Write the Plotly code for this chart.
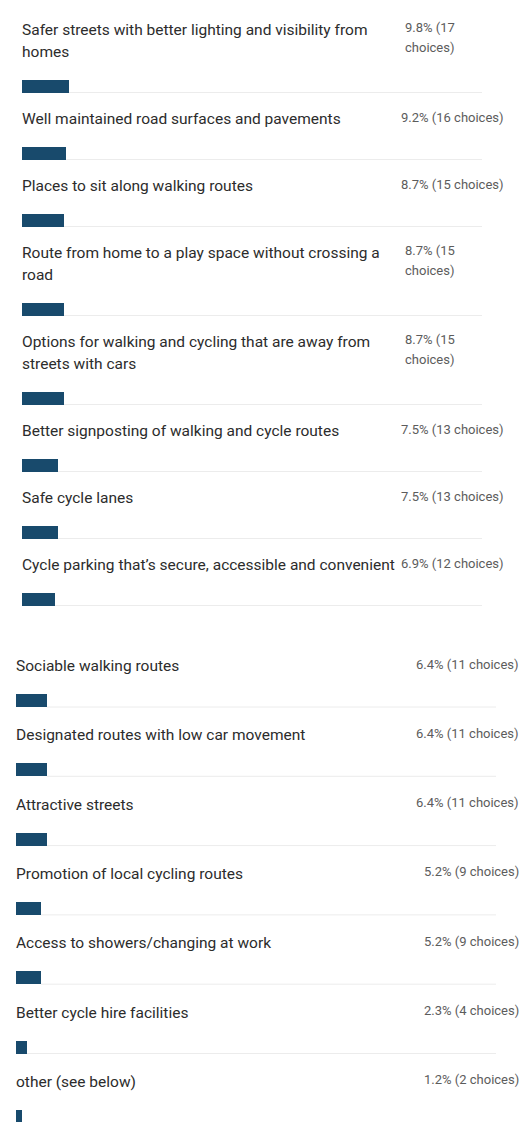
import textwrap
import plotly.graph_objects as go

# ---------------- data ----------------
labels = [
    "Safer streets with better lighting and visibility from homes",
    "Well maintained road surfaces and pavements",
    "Places to sit along walking routes",
    "Route from home to a play space without crossing a road",
    "Options for walking and cycling that are away from streets with cars",
    "Better signposting of walking and cycle routes",
    "Safe cycle lanes",
    "Cycle parking that\u2019s secure, accessible and convenient",
    "Sociable walking routes",
    "Designated routes with low car movement",
    "Attractive streets",
    "Promotion of local cycling routes",
    "Access to showers/changing at work",
    "Better cycle hire facilities",
    "other (see below)",
]
percents = [9.8, 9.2, 8.7, 8.7, 8.7, 7.5, 7.5, 6.9, 6.4, 6.4, 6.4, 5.2, 5.2, 2.3, 1.2]
choices = [17, 16, 15, 15, 15, 13, 13, 12, 11, 11, 11, 9, 9, 4, 2]
section = [1, 1, 1, 1, 1, 1, 1, 1, 2, 2, 2, 2, 2, 2, 2]

# ---------------- layout constants ----------------
W, H = 523, 1122
BAR_COLOR = "#184a6c"
LABEL_COLOR = "#2c2c2c"
PCT_COLOR = "#5c5c5c"
LINE_COLOR = "#ececec"
FONT = "Roboto"
LABEL_SIZE = 15.5
PCT_SIZE = 13

sec_left = {1: 22, 2: 16}          # px where 0% sits
px_per_pct = 4.8                   # px per percent
sec_pct_right = {1: 504, 2: 519}   # right edge of percentage text
sec_line_end = {1: 482, 2: 502}    # end of faint track line
wrap_pct_left = 405
SPLIT = 632                        # px boundary between the two sections

def paper_x(px):
    return px / W

# vertical layout (pixel units)
rows = []
y = 30.0
prev_sec = 1
for i, lab in enumerate(labels):
    sec = section[i]
    if sec != prev_sec:
        y += 34
        prev_sec = sec
    lines = textwrap.wrap(lab, 54)
    gap_lb, gap_bl = (34, 33) if sec == 1 else (34.5, 34.8)
    line_ys = [y + 22 * k for k in range(len(lines))]
    bar_y = line_ys[-1] + gap_lb
    rows.append((lines, line_ys, bar_y))
    y = bar_y + gap_bl

fig = go.Figure()

xax = {1: "x", 2: "x2"}
yax = {1: "y", 2: "y2"}
for sec in (1, 2):
    idx = [i for i in range(len(labels)) if section[i] == sec]
    fig.add_trace(go.Bar(
        x=[percents[i] for i in idx],
        y=[rows[i][2] for i in idx],
        orientation="h",
        width=13,
        marker=dict(color=BAR_COLOR, line=dict(width=0)),
        xaxis=xax[sec], yaxis=yax[sec],
        hoverinfo="skip",
        showlegend=False,
    ))

annotations = []
shapes = []
for i, (lines, line_ys, bar_y) in enumerate(rows):
    sec = section[i]
    left = sec_left[sec]
    for ln, ly in zip(lines, line_ys):
        annotations.append(dict(
            x=paper_x(left), y=ly, xref="paper", yref=yax[sec],
            text=ln, showarrow=False, xanchor="left", yanchor="middle",
            xshift=-2,
            font=dict(family=FONT, size=LABEL_SIZE, color=LABEL_COLOR),
        ))
    if len(lines) > 1:
        p_lines = [f"{percents[i]}% ({choices[i]}", "choices)"]
        for k, pl in enumerate(p_lines):
            annotations.append(dict(
                x=paper_x(wrap_pct_left), y=line_ys[0] - 3 + 20 * k,
                xref="paper", yref=yax[sec],
                text=pl, showarrow=False, xanchor="left", yanchor="middle",
                xshift=-2,
                font=dict(family=FONT, size=PCT_SIZE, color=PCT_COLOR),
            ))
    else:
        annotations.append(dict(
            x=paper_x(sec_pct_right[sec]), y=line_ys[0] - 2,
            xref="paper", yref=yax[sec],
            text=f"{percents[i]}% ({choices[i]} choices)",
            showarrow=False, xanchor="right", yanchor="middle",
            xshift=2,
            font=dict(family=FONT, size=PCT_SIZE, color=PCT_COLOR),
        ))
    # faint track line after the bar
    line_end_pct = (sec_line_end[sec] - left) / px_per_pct
    shapes.append(dict(
        type="line", xref=xax[sec], yref=yax[sec],
        x0=percents[i], x1=line_end_pct, y0=bar_y + 6.5, y1=bar_y + 6.5,
        line=dict(color=LINE_COLOR, width=1), layer="below",
    ))

x_common = dict(range=[0, 100], showgrid=False, zeroline=False,
                showticklabels=False, showline=False, ticks="", fixedrange=True)
y_common = dict(showgrid=False, zeroline=False, showticklabels=False,
                showline=False, ticks="", fixedrange=True)
fig.update_layout(
    width=W, height=H,
    margin=dict(l=0, r=0, t=0, b=0),
    paper_bgcolor="white", plot_bgcolor="white",
    xaxis=dict(domain=[paper_x(sec_left[1]), paper_x(sec_left[1] + 100 * px_per_pct)],
               anchor="y", **x_common),
    xaxis2=dict(domain=[paper_x(sec_left[2]), paper_x(sec_left[2] + 100 * px_per_pct)],
                anchor="y2", **x_common),
    yaxis=dict(range=[SPLIT, 0], domain=[1 - SPLIT / H, 1], anchor="x", **y_common),
    yaxis2=dict(range=[H, SPLIT], domain=[0, 1 - SPLIT / H], anchor="x2", **y_common),
    annotations=annotations,
    shapes=shapes,
    bargap=0,
)

fig.write_html("out.html", config={"displayModeBar": False},
               post_script="document.body.style.margin='0';")
